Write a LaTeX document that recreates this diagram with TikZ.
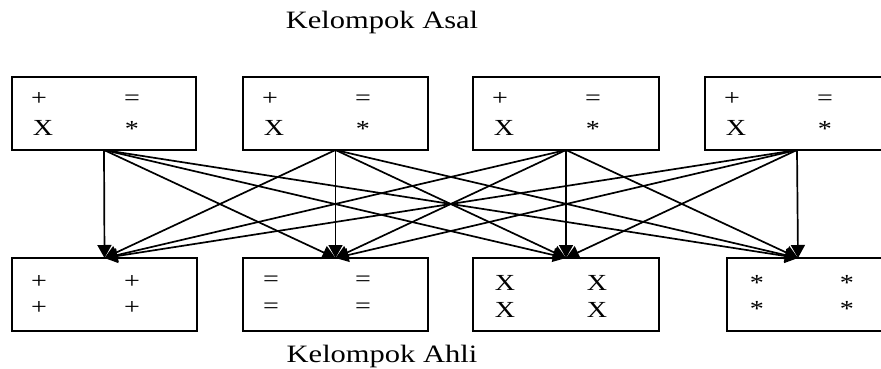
\documentclass[tikz,border=0pt]{standalone}
\usepackage{fontspec}
\setmainfont{Liberation Serif}
\usetikzlibrary{arrows.meta,calc}
\begin{document}
\begin{tikzpicture}[x=1pt,y=-1pt,
  grp/.style={draw,line width=2.3pt,minimum height=73pt,inner sep=0pt,outer sep=0pt,anchor=north west},
  sym/.style={anchor=base,inner sep=0pt,font=\fontsize{23}{23}\selectfont},
  ttl/.style={anchor=base,inner sep=0pt,font=\fontsize{25}{25}\selectfont},
  link/.style={line width=1.7pt,-{Triangle[length=13pt,width=14pt]}}]
\useasboundingbox (0,0) rectangle (881,369);
\clip (0,0) rectangle (881,369);
\newcommand{\wide}[1]{\scalebox{1.22}[1]{#1}}

% titles
\node[ttl] (asal) at (382,29) {\wide{Kelompok Asal}};
\node[ttl] (ahli) at (382,362) {\wide{Kelompok Ahli}};

% home groups
\node[grp,minimum width=184pt] (t1) at (12,77) {};
\node[grp,minimum width=185pt] (t2) at (243,77) {};
\node[grp,minimum width=186pt] (t3) at (473,77) {};
\node[grp,minimum width=184pt] (t4) at (705,77) {};
\foreach \i/\x in {1/12,2/243,3/473,4/705}{
  \node[sym] (tp\i) at (\x+27,105) {\wide{+}};
  \node[sym] (te\i) at (\x+120,105) {\wide{=}};
  \node[sym] (tx\i) at (\x+31,135) {\wide{X}};
  \node[sym] (ts\i) at (\x+120,136) {\wide{*}};
}

% expert groups
\node[grp,minimum width=185pt] (b1) at (12,258) {};
\node[grp,minimum width=185pt] (b2) at (243,258) {};
\node[grp,minimum width=186pt] (b3) at (473,258) {};
\node[grp,minimum width=160pt] (b4) at (727,258) {};
\coordinate (b4in) at (798,258);

\node[sym] (p11) at (39,288) {\wide{+}};
\node[sym] (p12) at (132,288) {\wide{+}};
\node[sym] (p21) at (39,314) {\wide{+}};
\node[sym] (p22) at (132,314) {\wide{+}};

\node[sym] (e11) at (271,286) {\wide{=}};
\node[sym] (e12) at (363,286) {\wide{=}};
\node[sym] (e21) at (271,313) {\wide{=}};
\node[sym] (e22) at (363,313) {\wide{=}};

\node[sym] (x11) at (505,290) {\wide{X}};
\node[sym] (x12) at (597,290) {\wide{X}};
\node[sym] (x21) at (505,317) {\wide{X}};
\node[sym] (x22) at (597,317) {\wide{X}};

\node[sym] (s11) at (757,290) {\wide{*}};
\node[sym] (s12) at (847,290) {\wide{*}};
\node[sym] (s21) at (757,316) {\wide{*}};
\node[sym] (s22) at (847,316) {\wide{*}};

% every home group sends one member to every expert group
\foreach \s in {t1,t2,t3,t4}{
  \draw[link] (\s.south) -- (b1.north);
  \draw[link] (\s.south) -- (b2.north);
  \draw[link] (\s.south) -- (b3.north);
  \draw[link] (\s.south) -- (b4in);
}
\end{tikzpicture}
\end{document}
